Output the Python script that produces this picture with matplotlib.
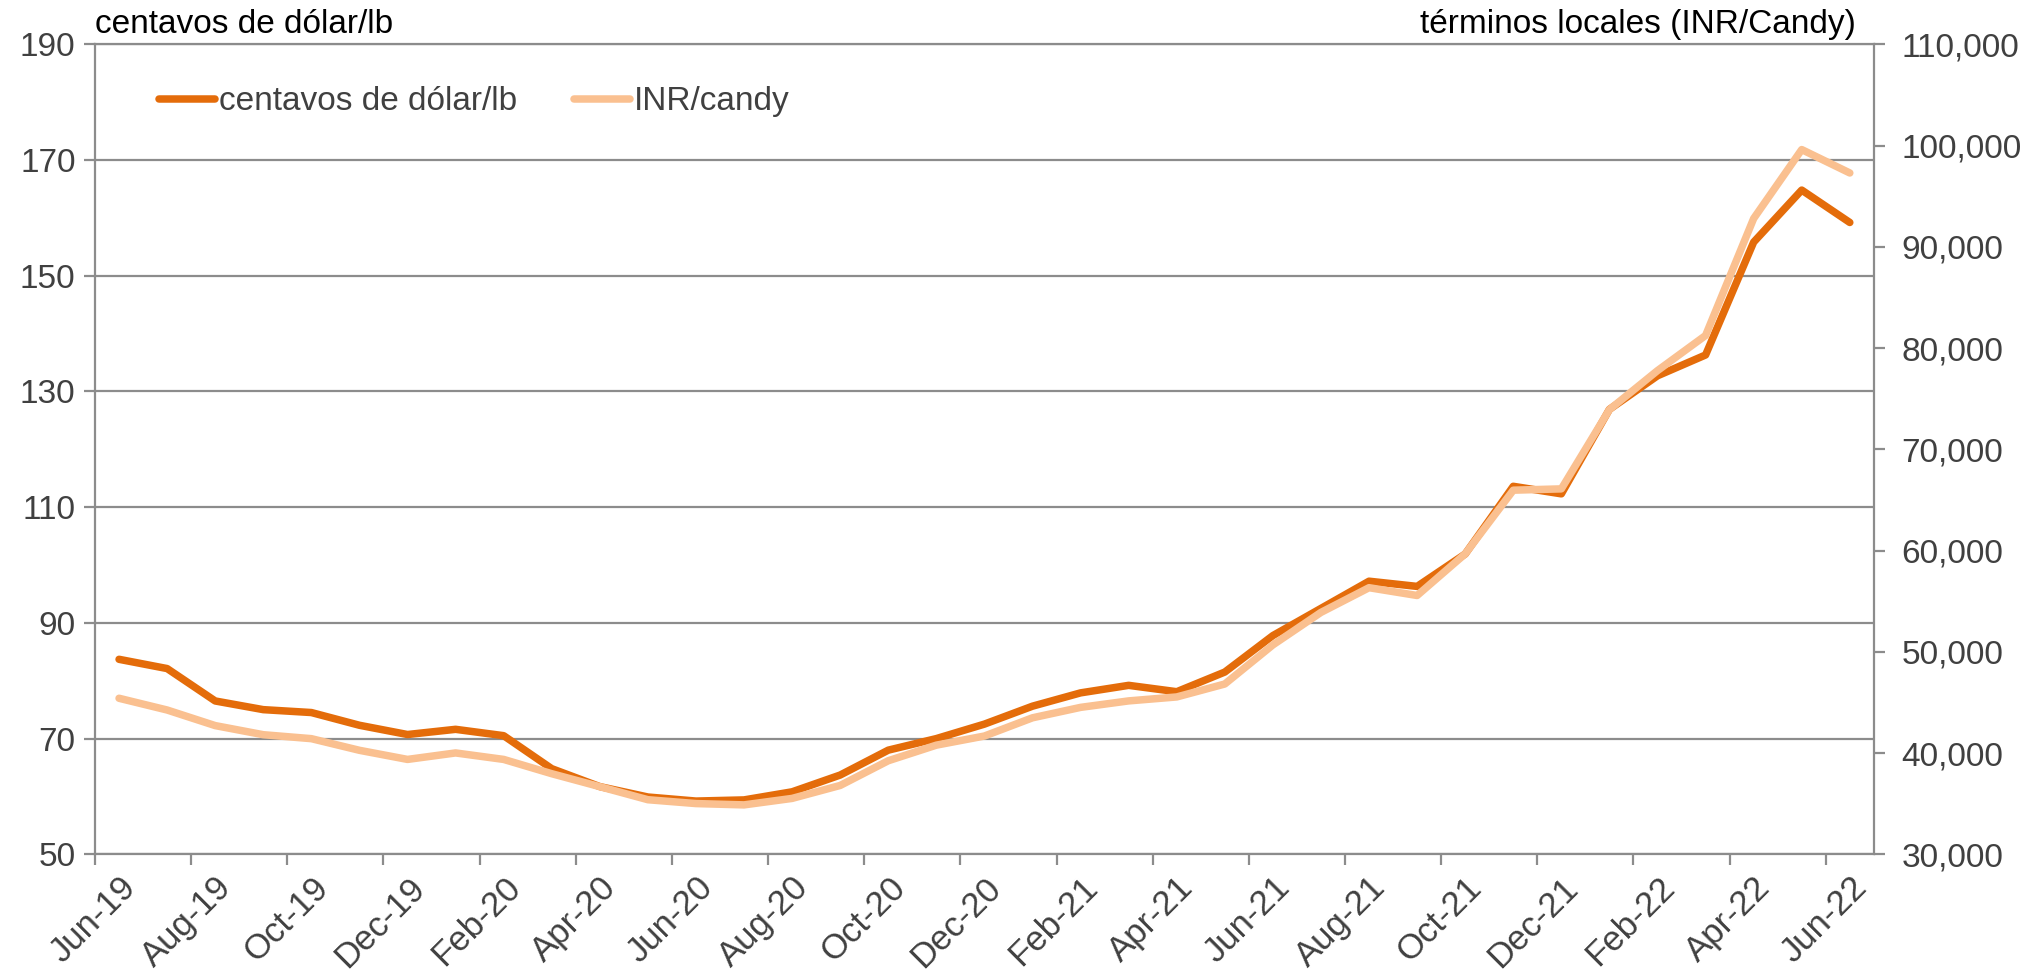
import matplotlib.pyplot as plt
import numpy as np

plt.rcParams['font.family'] = ['Liberation Sans', 'DejaVu Sans']

months = ['Jun-19', 'Jul-19', 'Aug-19', 'Sep-19', 'Oct-19', 'Nov-19', 'Dec-19',
          'Jan-20', 'Feb-20', 'Mar-20', 'Apr-20', 'May-20', 'Jun-20', 'Jul-20',
          'Aug-20', 'Sep-20', 'Oct-20', 'Nov-20', 'Dec-20', 'Jan-21', 'Feb-21',
          'Mar-21', 'Apr-21', 'May-21', 'Jun-21', 'Jul-21', 'Aug-21', 'Sep-21',
          'Oct-21', 'Nov-21', 'Dec-21', 'Jan-22', 'Feb-22', 'Mar-22', 'Apr-22',
          'May-22', 'Jun-22']

usc_lb = [83.7, 82.1, 76.5, 75.0, 74.5, 72.3, 70.7, 71.6, 70.5, 64.8, 61.7, 59.9,
          59.2, 59.4, 60.8, 63.7, 68.0, 70.0, 72.5, 75.6, 77.9, 79.2, 78.1, 81.5,
          87.8, 92.5, 97.2, 96.3, 101.9, 113.6, 112.3, 126.9, 132.7, 136.3, 155.8,
          164.8, 159.2]

inr_candy = [45410, 44250, 42710, 41810, 41420, 40270, 39370, 40010, 39370, 37960,
             36680, 35390, 35010, 34880, 35520, 36800, 39240, 40780, 41680, 43480,
             44510, 45150, 45540, 46820, 50680, 53890, 56330, 55560, 59670, 65960,
             66090, 73920, 77770, 81240, 92790, 99600, 97290]

left_ticks = [50, 70, 90, 110, 130, 150, 170, 190]
right_ticks = list(range(30000, 110001, 10000))

dark = '#E46C0A'
light = '#FAC090'
grid = '#8C8C8C'
txt = '#404040'
fs = 24

fig = plt.figure(figsize=(20.39, 9.73), dpi=100)
ax = fig.add_axes([0.0466, 0.122, 0.8724, 0.8325])
ax2 = ax.twinx()

x = np.arange(len(months))
l1, = ax.plot(x, usc_lb, color=dark, lw=5.4, solid_capstyle='round', zorder=3)
l2, = ax2.plot(x, inr_candy, color=light, lw=5.4, solid_capstyle='round', zorder=3)

ax.set_xlim(-0.5, len(months) - 0.5)
ax.set_ylim(50, 190)
ax2.set_ylim(30000, 110000)

ax.set_yticks(left_ticks)
ax.set_yticklabels([str(v) for v in left_ticks])
ax2.set_yticks(right_ticks)
ax2.set_yticklabels([f'{v:,}' for v in right_ticks])

ax.yaxis.grid(True, color=grid, lw=1.6)
ax.set_axisbelow(True)

# category boundaries as ticks, labels centred on every second month
ax.set_xticks(np.arange(-0.5, len(months), 2))
ax.set_xticklabels([])
ax.set_xticks(x[::2], minor=True)
ax.set_xticklabels(months[::2], minor=True, rotation=45, ha='right',
                   rotation_mode='anchor', fontsize=25, color=txt)
ax.tick_params(axis='x', which='major', length=8, width=1.6, color=grid, direction='out')
ax.tick_params(axis='x', which='minor', length=0, pad=12)
ax.tick_params(axis='y', length=8, width=1.6, color=grid, labelsize=fs, labelcolor=txt, pad=6)
ax2.tick_params(axis='y', length=8, width=1.6, color=grid, labelsize=fs, labelcolor=txt, pad=12)

for a in (ax, ax2):
    for s in a.spines.values():
        s.set_visible(False)
for name in ('left', 'bottom', 'top'):
    ax.spines[name].set_visible(True)
    ax.spines[name].set_color(grid)
    ax.spines[name].set_linewidth(1.6)
ax2.spines['right'].set_visible(True)
ax2.spines['right'].set_color(grid)
ax2.spines['right'].set_linewidth(1.6)

ax.text(0.0, 1.005, 'centavos de dólar/lb', transform=ax.transAxes, fontsize=fs,
        color='black', ha='left', va='bottom')
ax.text(0.99, 1.005, 'términos locales (INR/Candy)', transform=ax.transAxes, fontsize=fs,
        color='black', ha='right', va='bottom')

ax.legend([l1, l2], ['centavos de dólar/lb', 'INR/candy'], loc='upper left',
          bbox_to_anchor=(0.019, 0.985), ncol=2, frameon=False, fontsize=fs,
          handlelength=1.7, handletextpad=0.1, columnspacing=1.7, labelcolor=txt)

fig.savefig('out.png', dpi=100)
